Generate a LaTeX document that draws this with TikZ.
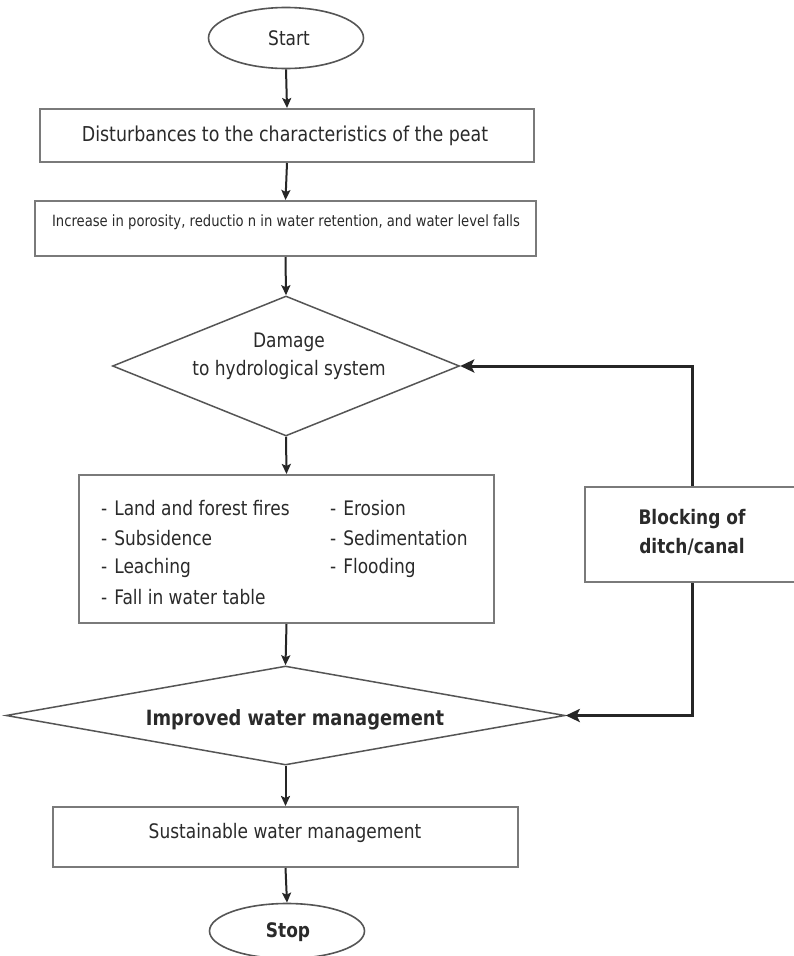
\documentclass[tikz,border=0pt]{standalone}
\usepackage{fontspec}
\setmainfont[FakeStretch=0.85]{DejaVu Sans}
\usetikzlibrary{shapes.geometric,arrows.meta}
\definecolor{boxgray}{HTML}{7A7A7A}
\definecolor{linegray}{HTML}{555555}
\definecolor{txt}{HTML}{2A2A2A}
\newcommand\itm[1]{-\hspace{7pt}#1}
\begin{document}
\begin{tikzpicture}[x=1pt,y=-1pt,
  box/.style={draw=boxgray,line width=2pt,rectangle,inner sep=0pt},
  oval/.style={draw=linegray,line width=1.6pt,ellipse,inner sep=0pt},
  dia/.style={draw=linegray,line width=1.5pt,diamond,inner sep=0pt},
  lbl/.style={text=txt,inner sep=0pt,align=center},
  conn/.style={draw=black!85,line width=2pt,-{Stealth[length=10pt,width=9pt,inset=2pt]}},
  fb/.style={draw=black!85,line width=3pt,-{Stealth[length=14pt,width=13pt,inset=3pt]}}]
\useasboundingbox[fill=white] (0,0) rectangle (793,956);

% Start
\node[oval,minimum width=155pt,minimum height=61pt] (start) at (286,38) {};
\node[lbl,font=\fontsize{20}{24}\selectfont] (startt) at (289,38) {Start};

% Box 1
\node[box,minimum width=494pt,minimum height=53pt] (b1) at (287,135.5) {};
\node[lbl,font=\fontsize{20.5}{24}\selectfont] (b1t) at (285,136) {Disturbances to the characteristics of the peat};

% Box 2
\node[box,minimum width=501pt,minimum height=55pt] (b2) at (285.5,228.5) {};
\node[lbl,font=\fontsize{15.5}{20}\selectfont] (b2t) at (286,222) {Increase in porosity, reductio n in water retention, and water level falls};

% Diamond 1
\node[dia,minimum width=347pt,minimum height=140pt] (d1) at (286,366) {};
\node[lbl,font=\fontsize{20}{28}\selectfont] (d1t) at (289,356) {Damage\\to hydrological system};

% Box 3 (list)
\node[box,minimum width=415pt,minimum height=148pt] (b3) at (286.5,549) {};
\node[lbl,anchor=west,font=\fontsize{20}{24}\selectfont] (l1) at (101,508) {\itm{Land and forest fires}};
\node[lbl,anchor=west,font=\fontsize{20}{24}\selectfont] (l2) at (101,538) {\itm{Subsidence}};
\node[lbl,anchor=west,font=\fontsize{20}{24}\selectfont] (l3) at (101,568) {\itm{Leaching}};
\node[lbl,anchor=west,font=\fontsize{20}{24}\selectfont] (l4) at (101,597) {\itm{Fall in water table}};
\node[lbl,anchor=west,font=\fontsize{20}{24}\selectfont] (r1) at (330,508) {\itm{Erosion}};
\node[lbl,anchor=west,font=\fontsize{20}{24}\selectfont] (r2) at (330,538) {\itm{Sedimentation}};
\node[lbl,anchor=west,font=\fontsize{20}{24}\selectfont] (r3) at (330,568) {\itm{Flooding}};

% Blocking box
\node[box,minimum width=220pt,minimum height=95pt] (blk) at (695,534.5) {};
\node[lbl,font=\bfseries\fontsize{20}{29}\selectfont] (blkt) at (692,532) {Blocking of\\ditch/canal};

% Diamond 2
\node[dia,minimum width=559pt,minimum height=99pt] (d2) at (285.5,715.5) {};
\node[lbl,font=\bfseries\fontsize{21}{24}\selectfont] (d2t) at (295,720) {Improved water management};

% Box 4
\node[box,minimum width=465pt,minimum height=60pt] (b4) at (285.5,837) {};
\node[lbl,font=\fontsize{20}{24}\selectfont] (b4t) at (285,833) {Sustainable water management};

% Stop
\node[oval,minimum width=155pt,minimum height=55pt] (stop) at (287,931) {};
\node[lbl,font=\bfseries\fontsize{20}{24}\selectfont] (stopt) at (288,932) {Stop};

% connectors
\draw[conn] (start.south) -- (b1.north);
\draw[conn] (b1.south) -- (b2.north);
\draw[conn] (b2.south) -- (d1.north);
\draw[conn] (d1.south) -- (b3.north);
\draw[conn] (b3.south) -- (d2.north);
\draw[conn] (d2.south) -- (b4.north);
\draw[conn] (b4.south) -- (stop.north);

\coordinate (c1) at (692,366);
\coordinate (c2) at (692,715.5);
\draw[fb] (blk.north -| c1) -- (c1) -- (d1.east);
\draw[fb] (blk.south -| c2) -- (c2) -- (d2.east);
\end{tikzpicture}
\end{document}
